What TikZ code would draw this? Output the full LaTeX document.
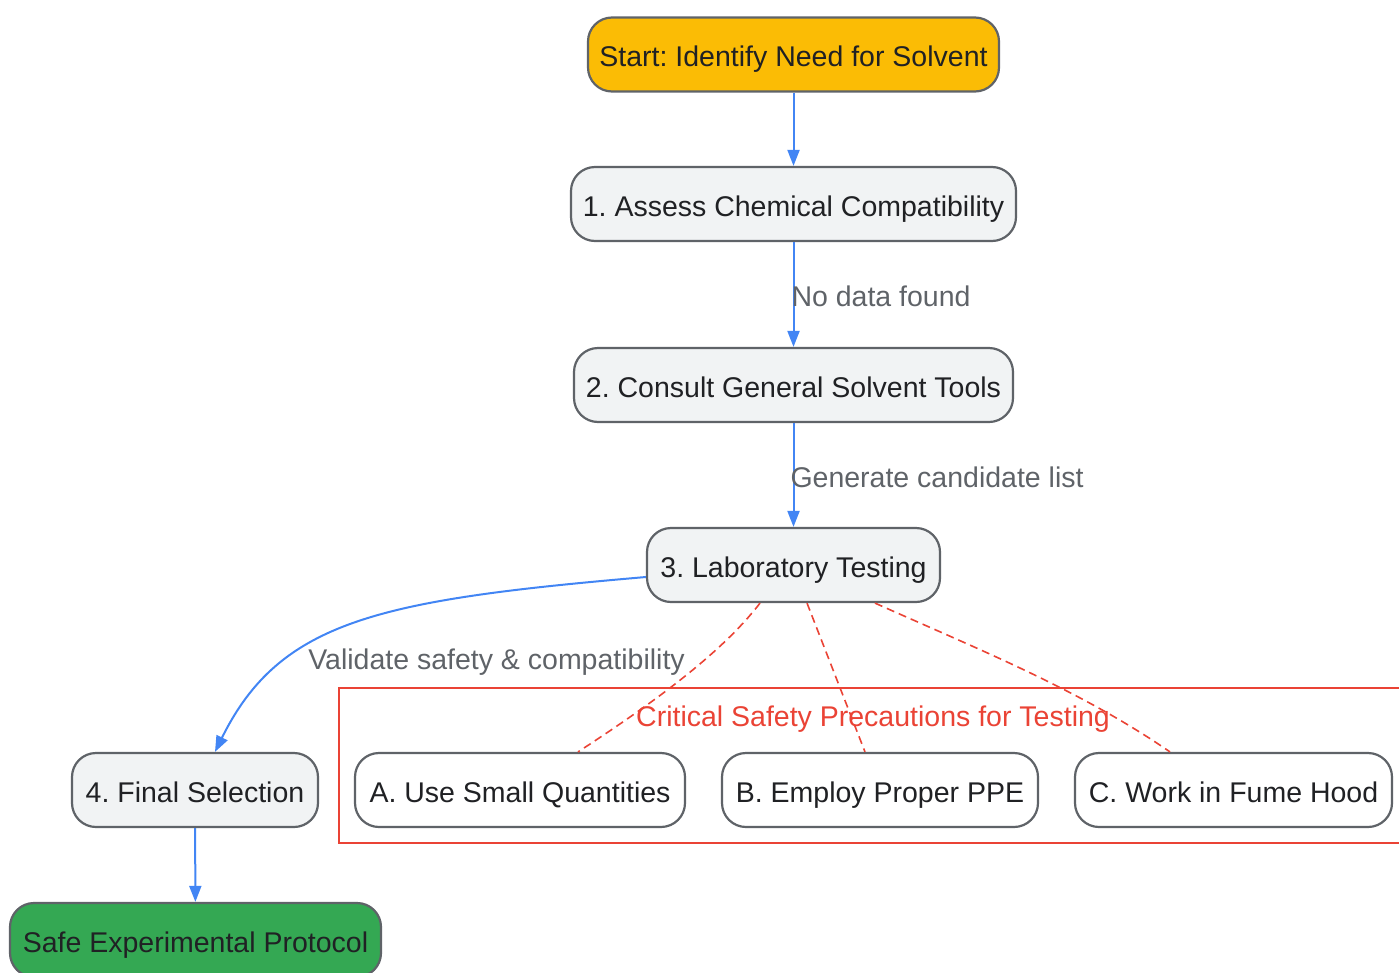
\documentclass[tikz,border=0pt]{standalone}
\usepackage{fontspec}
\setmainfont{Liberation Sans}
\usetikzlibrary{arrows.meta}
\frenchspacing
\definecolor{gyellow}{HTML}{FBBC05}
\definecolor{ggreen}{HTML}{34A853}
\definecolor{glight}{HTML}{F1F3F4}
\definecolor{gborder}{HTML}{5F6368}
\definecolor{gtext}{HTML}{202124}
\definecolor{gblue}{HTML}{4285F4}
\definecolor{gred}{HTML}{EA4335}
\definecolor{glabel}{HTML}{5F6368}
\tikzset{
  box/.style={draw=gborder, line width=2.2pt, rounded corners=24pt, fill=glight,
    text=gtext, minimum height=74pt, inner sep=0pt, text height=24.5pt, text depth=0pt,
    font=\fontsize{28.5}{33}\selectfont},
  whitebox/.style={box, fill=white},
  flow/.style={draw=gblue, line width=2pt, -{Triangle[length=16pt,width=12pt]}},
  safety/.style={draw=gred, line width=1.6pt, dash pattern=on 8pt off 5pt},
  elabel/.style={text=glabel, inner sep=0pt, text height=24.5pt, text depth=0pt,
    font=\fontsize{28.5}{33}\selectfont},
}
\begin{document}
\begin{tikzpicture}[x=1pt,y=-1pt]
\useasboundingbox (0,0) rectangle (1399,972);
% cluster
\draw[gred, line width=1.5pt] (339,688) rectangle (1410,843);
\node[text=gred, inner sep=0pt, text height=24.5pt, text depth=0pt, font=\fontsize{28.5}{33}\selectfont] (clab) at (873,714) {Critical Safety Precautions for Testing};

\node[box, fill=gyellow, minimum width=411pt] (start) at (793.5,54.5) {Start: Identify Need for Solvent};
\node[box, minimum width=445pt] (n1) at (793.5,204) {1. Assess Chemical Compatibility};
\node[box, minimum width=439pt] (n2) at (793.5,385) {2. Consult General Solvent Tools};
\node[box, minimum width=293pt] (n3) at (793.5,565) {3. Laboratory Testing};
\node[box, minimum width=246pt] (n4) at (195,790) {4. Final Selection};
\node[box, fill=ggreen, minimum width=371pt] (safe) at (195.5,940) {Safe Experimental Protocol};
\node[whitebox, minimum width=330pt] (a) at (520,790) {A. Use Small Quantities};
\node[whitebox, minimum width=316pt] (b) at (880,790) {B. Employ Proper PPE};
\node[whitebox, minimum width=317pt] (c) at (1233.5,790) {C. Work in Fume Hood};

\draw[flow] (start) -- (n1);
\draw[flow] (n1) -- node[elabel, right, xshift=-3pt] (l1) {No data found} (n2);
\draw[flow] (n2) -- node[elabel, right, xshift=-4pt] (l2) {Generate candidate list} (n3);
\draw[flow] (n3.west |- 0,577) .. controls (380,600) and (280,620) .. (n4.north -| 215,0);
\node[elabel] (l3) at (496.5,657) {Validate safety \& compatibility};
\draw[flow] (n4) -- (safe);

\draw[safety] (n3.south -| 760,0) .. controls (720,655) and (650,705) .. (a.north -| 578,0);
\draw[safety] (n3.south -| 807,0) -- (b.north -| 865,0);
\draw[safety] (n3.south -| 875,0) .. controls (980,650) and (1080,690) .. (c.north -| 1170,0);
\end{tikzpicture}
\end{document}
